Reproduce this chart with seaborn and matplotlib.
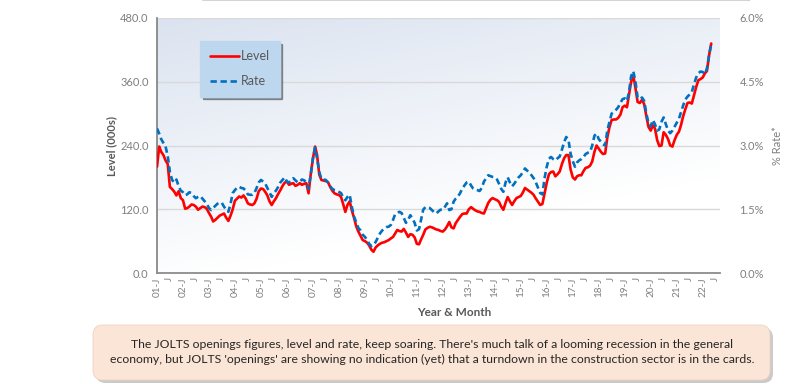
import numpy as np
import pandas as pd
import matplotlib
matplotlib.use("Agg")
import matplotlib.pyplot as plt
import matplotlib.dates as mdates
from matplotlib.patches import FancyBboxPatch, Rectangle
from matplotlib.ticker import FixedLocator
import seaborn as sns

# JOLTS construction openings, monthly Jan 2001 - May 2022
level = [
    200, 238, 228, 222, 212, 205, 162, 158, 153, 146, 154, 141,   # 2001
    137, 121, 122, 125, 129, 128, 125, 119, 122, 125, 124, 121,   # 2002
    113, 106, 97, 100, 104, 108, 110, 112, 104, 98, 108, 120,     # 2003
    136, 140, 144, 142, 146, 140, 131, 129, 128, 131, 140, 154,   # 2004
    159, 158, 153, 146, 135, 128, 135, 141, 149, 156, 164, 170,   # 2005
    172, 166, 168, 169, 164, 166, 169, 166, 168, 169, 150, 185,   # 2006
    215, 238, 222, 185, 175, 174, 173, 171, 162, 155, 150, 148,   # 2007
    147, 143, 130, 115, 128, 135, 118, 104, 88, 78, 70, 62,       # 2008
    60, 57, 52, 44, 40, 48, 52, 55, 57, 58, 60, 62,               # 2009
    65, 68, 74, 81, 79, 78, 83, 76, 68, 73, 72, 67,               # 2010
    55, 54, 63, 72, 82, 85, 87, 86, 84, 82, 81, 79,               # 2011
    78, 82, 88, 96, 86, 84, 94, 100, 106, 111, 112, 112,          # 2012
    120, 124, 121, 118, 116, 115, 113, 112, 122, 132, 138, 141,   # 2013
    139, 137, 134, 125, 119, 132, 143, 135, 128, 135, 141, 143,   # 2014
    145, 152, 160, 157, 154, 151, 147, 140, 134, 128, 130, 150,   # 2015
    170, 186, 190, 191, 182, 186, 191, 205, 216, 222, 222, 195,   # 2016
    180, 176, 182, 184, 184, 192, 198, 199, 202, 210, 228, 240,   # 2017
    234, 228, 224, 225, 255, 275, 288, 289, 289, 292, 298, 312,   # 2018
    315, 312, 335, 360, 372, 348, 322, 320, 326, 318, 295, 275,   # 2019
    268, 278, 272, 250, 239, 240, 265, 260, 252, 240, 238, 250,   # 2020
    260, 266, 278, 295, 308, 320, 321, 319, 335, 350, 363, 365,   # 2021
    368, 376, 380, 410, 432,                                      # 2022
]

rate = [
    3.40, 3.28, 3.15, 3.06, 2.98, 2.75, 2.38, 2.19, 2.13, 2.20, 2.04, 1.94,
    1.90, 1.83, 1.85, 1.90, 1.88, 1.81, 1.76, 1.79, 1.81, 1.75, 1.69, 1.63,
    1.53, 1.48, 1.53, 1.58, 1.63, 1.66, 1.65, 1.56, 1.49, 1.44, 1.63, 1.88,
    1.95, 2.01, 2.03, 2.00, 1.99, 1.94, 1.85, 1.84, 1.84, 1.88, 2.00, 2.13,
    2.19, 2.15, 2.11, 2.00, 1.90, 1.79, 1.88, 1.94, 2.03, 2.13, 2.19, 2.25,
    2.15, 2.13, 2.18, 2.23, 2.18, 2.13, 2.15, 2.20, 2.18, 2.13, 1.98, 2.31,
    2.69, 2.95, 2.69, 2.38, 2.21, 2.20, 2.19, 2.13, 2.04, 1.98, 1.95, 1.94,
    1.91, 1.88, 1.78, 1.71, 1.79, 1.84, 1.56, 1.33, 1.19, 1.06, 1.00, 0.90,
    0.85, 0.78, 0.69, 0.63, 0.65, 0.73, 0.83, 0.93, 1.00, 1.05, 1.08, 1.09,
    1.13, 1.25, 1.38, 1.41, 1.44, 1.41, 1.30, 1.18, 1.25, 1.36, 1.28, 1.18,
    1.00, 1.03, 1.25, 1.49, 1.55, 1.54, 1.53, 1.48, 1.43, 1.40, 1.45, 1.49,
    1.49, 1.56, 1.64, 1.48, 1.50, 1.68, 1.75, 1.80, 1.88, 1.99, 2.06, 2.13,
    2.15, 2.06, 1.99, 1.96, 1.95, 1.93, 2.00, 2.15, 2.23, 2.30, 2.28, 2.26,
    2.25, 2.20, 2.10, 1.98, 1.91, 2.13, 2.25, 2.13, 2.04, 2.10, 2.18, 2.25,
    2.30, 2.38, 2.46, 2.41, 2.36, 2.30, 2.23, 2.13, 2.00, 1.88, 1.85, 2.23,
    2.50, 2.69, 2.73, 2.68, 2.65, 2.70, 2.74, 2.90, 3.08, 3.20, 3.13, 2.81,
    2.63, 2.50, 2.60, 2.65, 2.68, 2.73, 2.80, 2.83, 2.85, 3.00, 3.23, 3.28,
    3.15, 3.09, 3.03, 3.00, 3.35, 3.56, 3.75, 3.79, 3.84, 3.90, 4.00, 4.09,
    4.11, 4.05, 4.25, 4.63, 4.75, 4.50, 4.13, 4.09, 4.13, 4.05, 3.75, 3.53,
    3.45, 3.60, 3.50, 3.35, 3.38, 3.56, 3.66, 3.50, 3.35, 3.29, 3.35, 3.44,
    3.53, 3.63, 3.78, 3.94, 4.08, 4.15, 4.20, 4.26, 4.44, 4.60, 4.70, 4.74,
    4.73, 4.68, 4.81, 5.13, 5.40,
]

start_month = "2001-01-01"
left_ticks = [0, 120, 240, 360, 480]
right_ticks = [0, 1.5, 3.0, 4.5, 6.0]
note = ("The JOLTS openings figures, level and rate, keep soaring. There's much talk of a looming recession in the general\n"
        "economy, but JOLTS 'openings' are showing no indication (yet) that a turndown in the construction sector is in the cards.")

df = pd.DataFrame({
    "month": pd.date_range(start_month, periods=len(level), freq="MS"),
    "level": level,
    "rate": rate,
})

sns.set_style("white")
plt.rcParams["font.family"] = ["Lato", "DejaVu Sans"]

fig = plt.figure(figsize=(8, 3.84), dpi=100)
ax = fig.add_axes([157 / 800, 1 - 273 / 384, 563 / 800, 255 / 384])
ax2 = ax.twinx()

# gradient plot background (bluish top-left -> white bottom-right)
gx, gy = np.meshgrid(np.linspace(0, 1, 200), np.linspace(0, 1, 200))
g = np.clip(0.8 * gy + 0.35 * (1 - gx) - 0.3, 0, 1)
cmap = matplotlib.colors.LinearSegmentedColormap.from_list("bg", ["#ffffff", "#dbe3f0"])
ax.imshow(g, cmap=cmap, origin="lower", extent=[0, 1, 0, 1], transform=ax.transAxes,
          aspect="auto", zorder=0, interpolation="bilinear")

for v in left_ticks[1:]:
    ax.axhline(v, color="#d9d9d9", lw=1, zorder=1)

sns.lineplot(data=df, x="month", y="level", ax=ax, color="#ff0000", lw=1.9, zorder=3,
             label="Level", legend=False)
sns.lineplot(data=df, x="month", y="rate", ax=ax2, color="#0070c0", lw=1.9, zorder=4,
             label="Rate", legend=False, linestyle=(0, (2.4, 1.4)))

ax.set_xlim(pd.Timestamp("2001-01-01"), pd.Timestamp("2022-09-01"))
ax.set_ylim(0, 480)
ax2.set_ylim(0, 6)

ax.set_yticks(left_ticks)
ax.set_yticklabels([f"{v:.1f}" for v in left_ticks])
ax2.set_yticks(right_ticks)
ax2.set_yticklabels([f"{v:.1f}%" for v in right_ticks])

ticks = pd.date_range("2001-01-01", "2022-07-01", freq="6MS")
ax.xaxis.set_major_locator(FixedLocator(mdates.date2num(ticks)))
ax.set_xticklabels([f"{t:%y}-J" if t.month == 1 else "J" for t in ticks], rotation=90)

for a in (ax, ax2):
    for s in a.spines.values():
        s.set_visible(False)
ax.spines["left"].set_visible(True)
ax.spines["left"].set_color("#7f7f7f")
ax.spines["left"].set_linewidth(1.2)
ax.spines["bottom"].set_visible(True)
ax.spines["bottom"].set_color("#8c8c8c")
ax.spines["bottom"].set_linewidth(1.3)

ax.tick_params(axis="y", length=0, labelsize=8, labelcolor="#7f7f7f", pad=6)
ax.tick_params(axis="x", length=0, labelsize=7.2, labelcolor="#7f7f7f", pad=3)
ax2.tick_params(axis="y", length=0, labelsize=8, labelcolor="#7f7f7f", pad=14)

ax.set_xlabel("Year & Month", fontsize=8.5, fontweight="bold", color="#595959")
ax.xaxis.set_label_coords((454 - 157) / 563, -0.135)
ax.set_ylabel("Level (000s)", fontsize=8, fontweight="bold", color="#595959")
ax.yaxis.set_label_coords(-0.07, 0.5)
ax2.set_ylabel("% Rate*", fontsize=8, color="#7f7f7f")
ax2.yaxis.set_label_coords(1.092, 0.5)

h1, l1 = ax.get_legend_handles_labels()
h2, l2 = ax2.get_legend_handles_labels()
leg = ax2.legend(h1 + h2, l1 + l2, loc="upper left", bbox_to_anchor=(0.066, 0.935),
                 frameon=True, fancybox=False, shadow=True, facecolor="#bdd7ee",
                 edgecolor="#bdd7ee", fontsize=9, labelcolor="#595959",
                 handlelength=2.3, labelspacing=1.05, borderpad=0.75, handletextpad=0.2)
leg.get_frame().set_alpha(1)

# box cut off at the top of the picture
fig.patches.append(Rectangle((204 / 800, 1 - 1 / 384), 546 / 800, 0.05, transform=fig.transFigure,
                             facecolor="#a6a6a6", edgecolor="none", alpha=0.6))
fig.patches.append(Rectangle((202 / 800, 1 - 0 / 384), 546 / 800, 0.05, transform=fig.transFigure,
                             facecolor="white", edgecolor="#d0d0d0", lw=0.6))

# note box at the bottom
fig.patches.append(FancyBboxPatch((96 / 800, 1 - 383 / 384), 677 / 800, 55 / 384,
                                  boxstyle="round,pad=0,rounding_size=0.012", mutation_aspect=2.1,
                                  transform=fig.transFigure, facecolor="#a0a0a0",
                                  edgecolor="none", alpha=0.55))
fig.patches.append(FancyBboxPatch((93 / 800, 1 - 380 / 384), 677 / 800, 55 / 384,
                                  boxstyle="round,pad=0,rounding_size=0.012", mutation_aspect=2.1,
                                  transform=fig.transFigure, facecolor="#fbe5d6",
                                  edgecolor="#efd3c2", lw=0.6))
fig.text(432 / 800, 1 - 352 / 384, note, ha="center", va="center", fontsize=8.8,
         color="#262626", linespacing=1.5)

fig.savefig("out.png", dpi=100)
plt.close(fig)
